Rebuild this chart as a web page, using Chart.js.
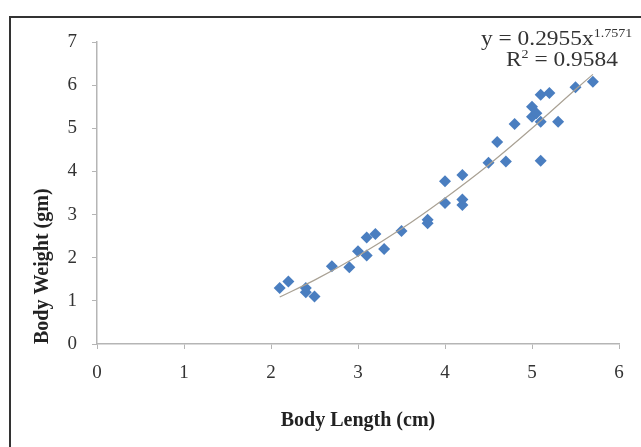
<!DOCTYPE html>
<html>
<head>
<meta charset="utf-8">
<script src="https://cdn.jsdelivr.net/npm/chart.js@4.4.1/dist/chart.umd.min.js"></script>
<style>
  html, body { margin: 0; padding: 0; background: #fff; }
  #wrap { position: relative; width: 641px; height: 447px; overflow: hidden; }
  #frame { position: absolute; left: 9px; top: 16px; width: 700px; height: 500px;
           border-left: 2px solid #333; border-top: 2px solid #333; box-sizing: border-box; }
  canvas { position: absolute; left: 0; top: 0; }
  .eq { position: absolute; font-family: "Liberation Serif", "DejaVu Serif", serif;
        font-size: 20px; color: #333; white-space: nowrap; transform: scaleX(1.17);
        transform-origin: left top; line-height: 22px; }
  .eq sup { font-size: 12px; vertical-align: 8px; line-height: 0; }
</style>
</head>
<body>
<div id="wrap">
  <div id="frame"></div>
  <canvas id="c" width="641" height="447"></canvas>
  <div class="eq" id="eq1" style="left:481px; top:27px;">y = 0.2955x<sup>1.7571</sup></div>
  <div class="eq" id="eq2" style="left:506px; top:48px;">R<sup>2</sup> = 0.9584</div>
</div>
<script>
// Body length (cm) and body weight (gm)
const bodyLength = [2.1, 2.2, 2.4, 2.4, 2.5, 2.7, 2.9, 3.0, 3.1, 3.1, 3.2, 3.3, 3.5, 3.8, 3.8,
                    4.0, 4.0, 4.2, 4.2, 4.2, 4.5, 4.6, 4.7, 4.8, 5.0, 5.0, 5.05, 5.1, 5.1, 5.1,
                    5.2, 5.3, 5.5, 5.7];
const bodyWeight = [1.3, 1.45, 1.3, 1.2, 1.1, 1.8, 1.78, 2.15, 2.05, 2.47, 2.55, 2.2, 2.62, 2.8, 2.88,
                    3.27, 3.77, 3.92, 3.35, 3.22, 4.2, 4.68, 4.23, 5.1, 5.27, 5.5, 5.35, 5.15, 5.78, 4.25,
                    5.82, 5.15, 5.95, 6.08];
// Power trend line
const trendLength = [2.1, 2.5, 3.0, 3.5, 4.0, 4.5, 5.0, 5.5, 5.7];
const trendWeight = [1.09, 1.48, 2.04, 2.67, 3.38, 4.15, 5.0, 5.9, 6.25];
const xTicks = [0, 1, 2, 3, 4, 5, 6];
const yTicks = [0, 1, 2, 3, 4, 5, 6, 7];

const points = bodyLength.map((x, i) => ({ x: x, y: bodyWeight[i] }));
const trend = trendLength.map((x, i) => ({ x: x, y: trendWeight[i] }));

const serif = '"Liberation Serif", "DejaVu Serif", serif';

new Chart(document.getElementById('c'), {
  type: 'scatter',
  data: {
    datasets: [
      {
        type: 'line',
        data: trend,
        borderColor: '#a9a194',
        borderWidth: 1.2,
        pointRadius: 0,
        fill: false,
        cubicInterpolationMode: 'monotone',
        order: 0
      },
      {
        data: points,
        pointStyle: 'rectRot',
        pointRadius: 6,
        backgroundColor: '#4a7ec0',
        borderColor: '#4a7ec0',
        borderWidth: 0,
        order: 1
      }
    ]
  },
  options: {
    responsive: false,
    animation: false,
    events: [],
    layout: { padding: { left: 25, right: 22, top: 42, bottom: 0 } },
    plugins: { legend: { display: false }, tooltip: { enabled: false } },
    scales: {
      x: {
        type: 'linear',
        min: xTicks[0], max: xTicks[xTicks.length - 1],
        afterBuildTicks: s => { s.ticks = xTicks.map(v => ({ value: v })); },
        afterFit: s => { s.height = 447 - 344; },
        grid: { drawOnChartArea: false, drawTicks: true, tickLength: 5, color: '#b5b5b5' },
        border: { color: '#b5b5b5', width: 1.5 },
        ticks: { color: '#333', font: { family: serif, size: 19 }, padding: 13 },
        title: { display: true, text: 'Body Length (cm)', color: '#222',
                 font: { family: serif, size: 20, weight: 'bold' }, padding: { top: 4, bottom: 14 } }
      },
      y: {
        type: 'linear',
        min: yTicks[0], max: yTicks[yTicks.length - 1],
        afterBuildTicks: s => { s.ticks = yTicks.map(v => ({ value: v })); },
        afterFit: s => { s.width = 97 - 25; },
        grid: { drawOnChartArea: false, drawTicks: true, tickLength: 5, color: '#b5b5b5' },
        border: { color: '#b5b5b5', width: 1.5 },
        ticks: { color: '#333', font: { family: serif, size: 19 }, padding: 15 },
        title: { display: true, text: 'Body Weight (gm)', color: '#222', align: 'start',
                 font: { family: serif, size: 20, weight: 'bold' }, padding: { top: 6, bottom: 4 } }
      }
    }
  }
});
</script>
</body>
</html>
